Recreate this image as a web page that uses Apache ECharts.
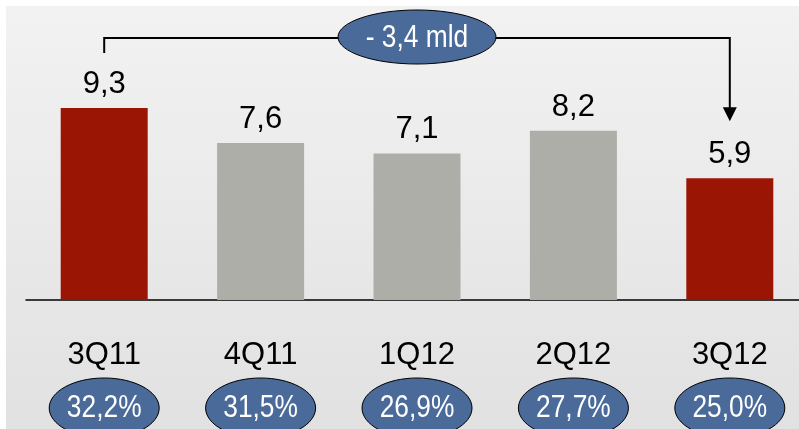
<!DOCTYPE html>
<html>
<head>
<meta charset="utf-8">
<script src="https://cdn.jsdelivr.net/npm/echarts@6/dist/echarts.min.js"></script>
<style>
html, body { margin: 0; padding: 0; background: #fff; }
#chart { width: 799px; height: 429px; }
</style>
</head>
<body>
<div id="chart"></div>
<script>
// quarterly values (mld) and share labels
var categories = ['3Q11', '4Q11', '1Q12', '2Q12', '3Q12'];
var values = [9.3, 7.6, 7.1, 8.2, 5.9];
var shares = ['32,2%', '31,5%', '26,9%', '27,7%', '25,0%'];

var FONT = '"Liberation Sans", Arial, sans-serif';
var RED = '#9b1505';
var GREY = '#aeaea9';
var BLUE = '#4a6a9a';

function comma(v) {
    return String(v).replace('.', ',');
}

var myChart = echarts.init(document.getElementById('chart'));

myChart.setOption({
    animation: false,
    grid: { left: 26, top: 93.5, width: 782, height: 206.5, outerBoundsMode: 'none', containLabel: false },
    xAxis: {
        type: 'category',
        data: categories,
        axisLine: { lineStyle: { color: '#000', width: 1.5 } },
        axisTick: { show: false },
        axisLabel: {
            color: '#000',
            fontFamily: FONT,
            fontSize: 31,
            margin: 40,
            interval: 0
        }
    },
    yAxis: {
        type: 'value',
        min: 0,
        max: 10,
        show: false,
        splitLine: { show: false }
    },
    series: [{
        type: 'bar',
        barWidth: 87,
        data: values,
        itemStyle: {
            color: function (p) {
                // first and last quarter are highlighted
                return (p.dataIndex === 0 || p.dataIndex === values.length - 1) ? RED : GREY;
            }
        },
        label: {
            show: true,
            position: 'top',
            distance: 8,
            color: '#000',
            fontFamily: FONT,
            fontSize: 31,
            formatter: function (p) { return comma(p.value); }
        }
    }]
});

// annotations positioned from the chart's own scales
var last = values.length - 1;
var x0 = myChart.convertToPixel({ xAxisIndex: 0 }, categories[0]);
var xN = myChart.convertToPixel({ xAxisIndex: 0 }, categories[last]);
var top0 = myChart.convertToPixel({ yAxisIndex: 0 }, values[0]);
var topN = myChart.convertToPixel({ yAxisIndex: 0 }, values[last]);
var lineY = 38;
var midX = (x0 + xN) / 2;
var drop = comma((values[0] - values[last]).toFixed(1));

var graphics = [
    {
        type: 'rect',
        z: -10,
        shape: { x: 6, y: 6, width: 800, height: 430 },
        style: {
            fill: new echarts.graphic.LinearGradient(0, 0, 0, 1, [
                { offset: 0, color: '#f2f2f2' },
                { offset: 1, color: '#e1e1e1' }
            ])
        }
    },
    {
        type: 'polyline',
        shape: { points: [[x0, top0 - 55], [x0, lineY], [xN, lineY], [xN, topN - 70]] },
        style: { stroke: '#000', lineWidth: 2, fill: null }
    },
    {
        type: 'polygon',
        shape: { points: [[xN - 7, topN - 71], [xN + 7, topN - 71], [xN, topN - 57]] },
        style: { fill: '#000' }
    },
    {
        type: 'ellipse',
        shape: { cx: midX, cy: 37, rx: 79, ry: 27 },
        style: { fill: BLUE, stroke: '#000', lineWidth: 1 }
    },
    {
        type: 'text',
        x: midX,
        y: 38,
        scaleX: 0.85,
        style: {
            text: '- ' + drop + ' mld',
            fill: '#fff',
            font: '31px ' + FONT,
            align: 'center',
            verticalAlign: 'middle'
        }
    }
];

for (var i = 0; i < categories.length; i++) {
    var cx = myChart.convertToPixel({ xAxisIndex: 0 }, categories[i]);
    graphics.push({
        type: 'ellipse',
        shape: { cx: cx, cy: 408, rx: 55, ry: 30 },
        style: { fill: BLUE, stroke: '#000', lineWidth: 1 }
    });
    graphics.push({
        type: 'text',
        x: cx,
        y: 408,
        scaleX: 0.85,
        style: {
            text: shares[i],
            fill: '#fff',
            font: '31px ' + FONT,
            align: 'center',
            verticalAlign: 'middle'
        }
    });
}

myChart.setOption({ graphic: graphics });
</script>
</body>
</html>
